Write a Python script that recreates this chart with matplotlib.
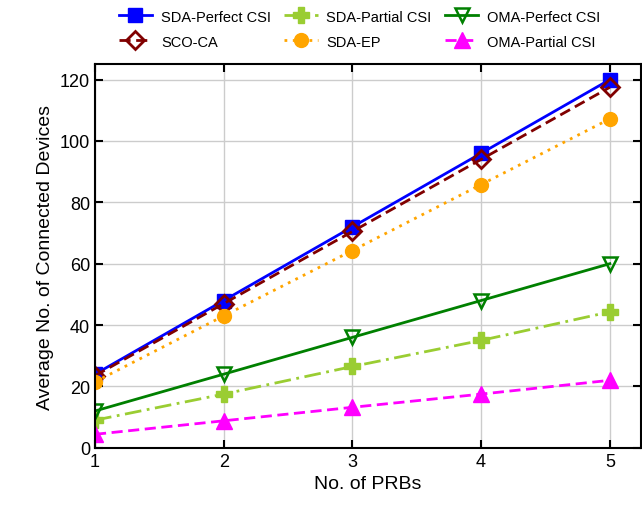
import numpy as np
import matplotlib
matplotlib.use('Agg')
import matplotlib.pyplot as plt

plt.rcParams['font.family'] = ['Liberation Sans', 'DejaVu Sans']

prbs = [1, 2, 3, 4, 5]
sda_perfect = [24, 48, 72, 96, 120]
sco_ca = [23.5, 47, 70.5, 94, 117.5]
sda_partial = [9, 17.5, 26.5, 35, 44.3]
sda_ep = [21.5, 43, 64.3, 85.8, 107.2]
oma_perfect = [12, 24, 36, 48, 60]
oma_partial = [4.4, 8.8, 13.2, 17.5, 22]

fig = plt.figure(figsize=(6.42, 5.10), dpi=100)
ax = fig.add_axes([0.148, 0.12, 0.85, 0.752])

ax.plot(prbs, sda_perfect, color='blue', ls='-', lw=2, marker='s', ms=10, label='SDA-Perfect CSI')
ax.plot(prbs, sco_ca, color='#800000', ls=(0, (4, 2)), lw=2, marker='D', ms=9, mfc='none', mew=2, label='SCO-CA')
ax.plot(prbs, sda_partial, color='yellowgreen', ls=(0, (6, 2, 1, 2)), lw=2, marker='P', ms=11, label='SDA-Partial CSI')
ax.plot(prbs, sda_ep, color='orange', ls=(0, (1, 2)), lw=2, marker='o', ms=10, label='SDA-EP')
ax.plot(prbs, oma_perfect, color='green', ls='-', lw=2, marker='v', ms=10, mfc='none', mew=1.8, label='OMA-Perfect CSI')
ax.plot(prbs, oma_partial, color='magenta', ls=(0, (4, 2)), lw=2, marker='^', ms=11, label='OMA-Partial CSI')

ax.set_xlim(1, 5.24)
ax.set_ylim(0, 125)
ax.set_xticks(prbs)
ax.set_yticks(np.arange(0, 121, 20))
ax.grid(True, color='#cccccc', lw=1)
ax.tick_params(direction='in', top=True, right=True, length=6, width=1.5, labelsize=13)
for s in ax.spines.values():
    s.set_linewidth(1.5)
ax.set_xlabel('No. of PRBs', fontsize=14)
ax.set_ylabel('Average No. of Connected Devices', fontsize=14)

fig.legend(loc='upper center', bbox_to_anchor=(0.56, 1.005), ncol=3, frameon=False,
           fontsize=10.5, handlelength=2.3, handletextpad=0.6, columnspacing=0.9,
           labelspacing=0.75)

fig.savefig('out.png', dpi=100)
